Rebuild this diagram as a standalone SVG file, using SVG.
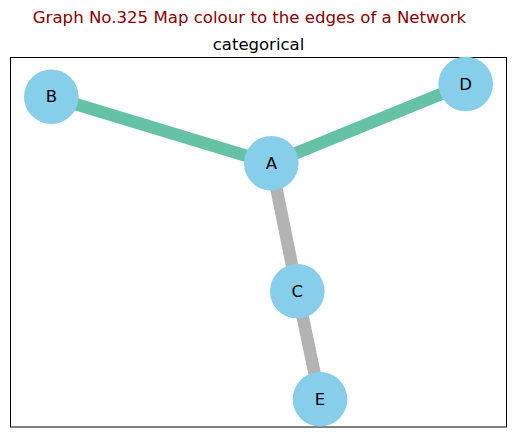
<svg xmlns="http://www.w3.org/2000/svg" width="515" height="437" viewBox="0 0 515 437">
<style>
text{font-family:"DejaVu Sans",Verdana,sans-serif;}
.lbl{font-size:16.5px;fill:#000;text-anchor:middle;dominant-baseline:central;}
.node{fill:#87ceeb;}
.e{stroke-width:12.5;fill:none;}
.g{stroke:#66c2a5;}
.s{stroke:#b3b3b3;}
</style>
<rect width="515" height="437" fill="#fff"/>
<text x="249.5" y="22.5" font-size="16.6" fill="#8b0000" text-anchor="middle">Graph No.325 Map colour to the edges of a Network</text>
<text x="258.5" y="50" font-size="16.5" fill="#000" text-anchor="middle">categorical</text>
<rect x="10.5" y="57.5" width="496" height="369.5" fill="none" stroke="#000" stroke-width="1"/>
<g id="edges">
<line class="e g" x1="271.3" y1="163.3" x2="51.3" y2="96.7"/>
<line class="e g" x1="271.3" y1="163.3" x2="465.7" y2="84"/>
<line class="e s" x1="271.3" y1="163.3" x2="297.3" y2="291.3"/>
<line class="e s" x1="297.3" y1="291.3" x2="320" y2="399.3"/>
</g>
<g id="node-A"><circle class="node" cx="271.3" cy="163.3" r="27.3"/><text class="lbl" x="271.3" y="163.3">A</text></g>
<g id="node-B"><circle class="node" cx="51.3" cy="96.7" r="27.3"/><text class="lbl" x="51.3" y="96.7">B</text></g>
<g id="node-C"><circle class="node" cx="297.3" cy="291.3" r="27.3"/><text class="lbl" x="297.3" y="291.3">C</text></g>
<g id="node-D"><circle class="node" cx="465.7" cy="84" r="27.3"/><text class="lbl" x="465.7" y="84">D</text></g>
<g id="node-E"><circle class="node" cx="320" cy="399.3" r="27.3"/><text class="lbl" x="320" y="399.3">E</text></g>
</svg>
